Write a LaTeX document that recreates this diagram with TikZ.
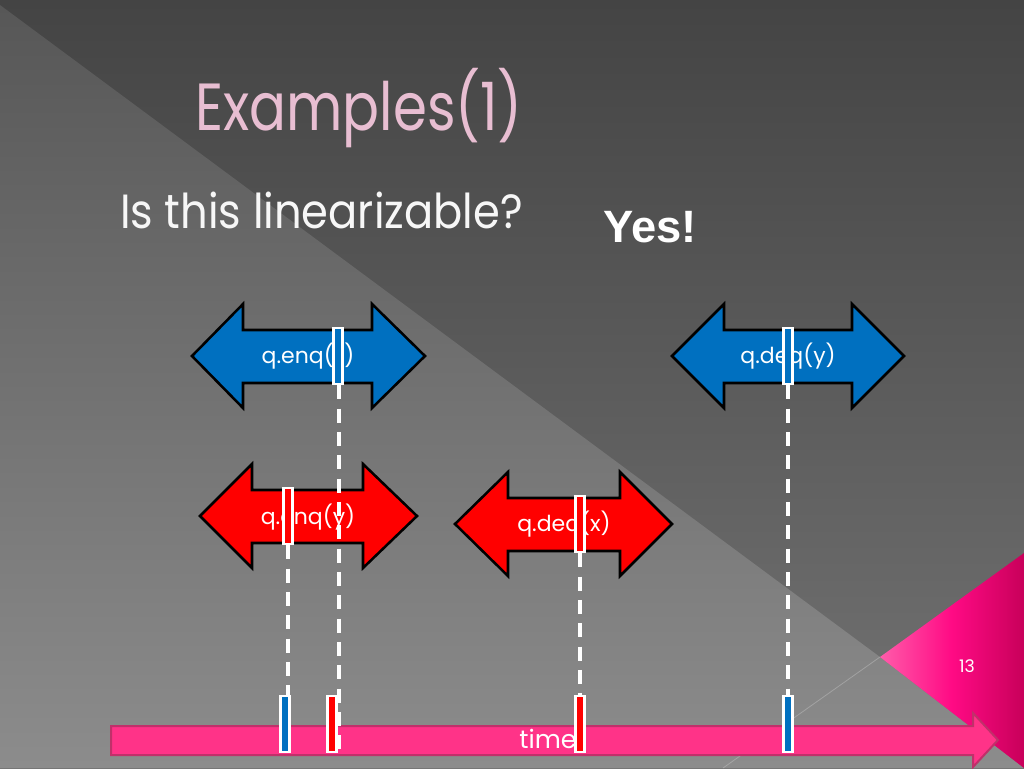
\documentclass[tikz,border=0pt]{standalone}
\usepackage{fontspec}
\setmainfont{Poppins}
\newfontfamily\yesfont{Liberation Sans}
\usetikzlibrary{shapes.geometric}
\definecolor{bgtop}{HTML}{444444}
\definecolor{bgbot}{HTML}{737373}
\definecolor{lltop}{HTML}{575757}
\definecolor{llbot}{HTML}{8C8C8C}
\definecolor{qblue}{HTML}{0070C0}
\definecolor{qred}{HTML}{FF0000}
\definecolor{tpink}{HTML}{FF3388}
\definecolor{tpinkd}{HTML}{C0306A}
\definecolor{titlepink}{HTML}{E8BED2}
\definecolor{cpinkl}{HTML}{FF5CAA}
\definecolor{cpinkm}{HTML}{FF0A84}
\definecolor{cpinkr}{HTML}{C8005A}
\tikzset{
  arr/.style={draw=black, line width=1.9pt, line join=miter},
  probe/.style={rectangle, draw=white, line width=1.8pt, minimum width=6.5pt, minimum height=42pt, inner sep=0pt},
  guide/.style={draw=white, line width=2.8pt, dash pattern=on 10.5pt off 7pt},
  oplabel/.style={text=white, font=\fontsize{16.5}{20}\selectfont, inner sep=0pt, anchor=base},
}
\newcommand\dblarr[6]{%
  \filldraw[arr, fill=#1] (#2,#6) -- (#3,{#6-52}) -- (#3,{#6-26}) -- (#4,{#6-26}) -- (#4,{#6-52}) -- (#5,#6)
    -- (#4,{#6+52}) -- (#4,{#6+27}) -- (#3,{#6+27}) -- (#3,{#6+52}) -- cycle;}
\begin{document}
\begin{tikzpicture}[x=0.75pt,y=-0.75pt]
\useasboundingbox (0,0) rectangle (1024,768);
% background
\shade[top color=bgtop, bottom color=bgbot] (0,0) rectangle (1024,768);
\shade[top color=lltop, bottom color=llbot] (0,5) -- (880,657) -- (1024,768) -- (0,768) -- cycle;
\draw[color=white!60!gray, opacity=0.4, line width=0.6pt] (880,657) -- (723,768);
% page corner
\shade[left color=cpinkl, right color=cpinkr, middle color=cpinkm] (880,657) -- (1024,553) -- (1024,768) -- cycle;
\node[text=white, font=\fontsize{13}{15}\selectfont, anchor=base] (pg) at (967,672) {13};
% texts
\node[text=titlepink, font=\fontsize{50}{60}\selectfont, anchor=base west, inner sep=0pt, xscale=0.82] (title) at (195,130) {Examples(1)};
\node[text=white!94!gray, font=\fontsize{36}{44}\selectfont, anchor=base west, inner sep=0pt, xscale=0.9] (q) at (120,228) {Is this linearizable?};
\node[text=white, font=\yesfont\bfseries\fontsize{34}{40}\selectfont, anchor=base west, inner sep=0pt] (yes) at (603,242) {Yes!};
% timeline
\filldraw[fill=tpink, draw=tpinkd, line width=1.5pt] (111,726) -- (973,726) -- (973,713) -- (998,740) -- (973,767) -- (973,755) -- (111,755) -- cycle;
\node[text=white, font=\fontsize{19}{22}\selectfont, anchor=base] (time) at (548,748) {time};
% operations
\dblarr{qblue}{192}{243}{372}{425}{356}
\dblarr{qred}{200}{252}{363}{417}{516}
\dblarr{qred}{455}{508}{620}{672}{524}
\dblarr{qblue}{672}{724}{852}{904}{356}
\node[oplabel] (l1) at (308,363) {q.enq(x)};
\node[oplabel] (l2) at (308,524) {q.enq(y)};
\node[oplabel] (l3) at (564,531) {q.deq(x)};
\node[oplabel] (l4) at (788,363) {q.deq(y)};
% probes on operations
\node[probe, fill=qblue] (p1) at (338,356) {};
\node[probe, fill=qred] (p2) at (288,516) {};
\node[probe, fill=qred] (p3) at (580,524) {};
\node[probe, fill=qblue] (p4) at (788,356) {};
% probes on timeline
\node[probe, fill=qblue] (t1) at (285,724) {};
\node[probe, fill=qred] (t2) at (332,724) {};
\node[probe, fill=qred] (t3) at (580,724) {};
\node[probe, fill=qblue] (t4) at (788,724) {};
\coordinate (e1) at (339,752);
% guides
\draw[guide] (p1.south -| e1) -- (e1);
\draw[guide] (p2.south) -- (p2.south |- t1.north);
\draw[guide] (p3.south) -- (t3.north);
\draw[guide] (p4.south) -- (t4.north);
\end{tikzpicture}
\end{document}
